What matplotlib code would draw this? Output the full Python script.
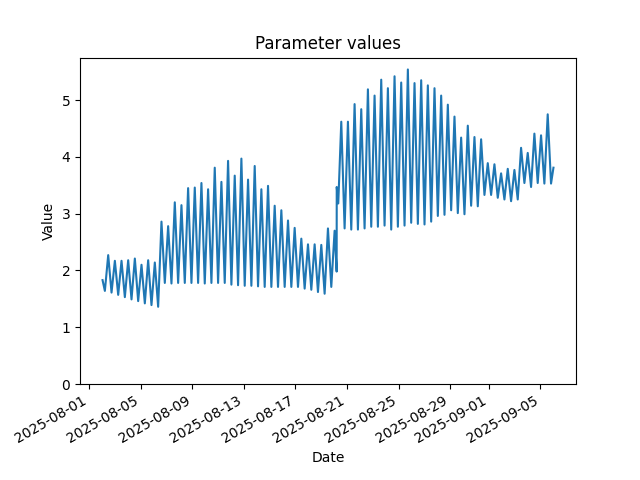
import matplotlib
matplotlib.use("Agg")
import matplotlib.pyplot as plt
import pandas as pd

# Alternating extrema of the tidal-like signal (first trough, then peak/trough pairs)
first_extremum = "2025-08-02 05:05"
half_period = "372min"

peaks = [2.27, 2.17, 2.17, 2.18, 2.21, 2.10, 2.18, 2.14, 2.86, 2.78,
         3.20, 3.15, 3.45, 3.46, 3.54, 3.43, 3.81, 3.56, 3.93, 3.67,
         3.97, 3.60, 3.84, 3.43, 3.49, 3.14, 3.06, 2.88, 2.75, 2.56,
         2.46, 2.46, 2.45, 2.74, 2.70, 4.62, 4.62, 4.93, 4.84, 5.19,
         5.08, 5.36, 5.21, 5.42, 5.31, 5.54, 5.30, 5.35, 5.26, 5.21,
         5.08, 4.92, 4.71, 4.34, 4.55, 4.35, 4.31, 3.89, 3.87, 3.71,
         3.79, 3.77, 4.16, 4.07, 4.41, 4.38, 4.75]

troughs = [1.64, 1.61, 1.57, 1.53, 1.49, 1.46, 1.42, 1.39, 1.36, 1.78,
           1.77, 1.78, 1.78, 1.78, 1.78, 1.77, 1.78, 1.78, 1.78, 1.75,
           1.74, 1.73, 1.73, 1.72, 1.71, 1.71, 1.71, 1.71, 1.71, 1.71,
           1.68, 1.66, 1.62, 1.59, 1.71, None, 2.74, 2.72, 2.72, 2.74,
           2.77, 2.77, 2.79, 2.72, 2.77, 2.79, 2.84, 2.82, 2.81, 2.86,
           2.96, 2.98, 3.06, 3.01, 2.99, 3.14, 3.13, 3.33, 3.33, 3.28,
           3.25, 3.22, 3.25, 3.54, 3.47, 3.54, 3.53, 3.53]

# Extra points: series start/end and the step change on 2025-08-20
extra_times = ["2025-08-02 00:45", "2025-08-20 04:40", "2025-08-20 04:50",
               "2025-08-20 07:40", "2025-09-06 00:23"]
extra_values = [1.83, 1.98, 3.47, 3.18, 3.81]

# Build series
vals = []
for i, t in enumerate(troughs):
    vals.append(t)
    if i < len(peaks):
        vals.append(peaks[i])
times = pd.date_range(first_extremum, periods=len(vals), freq=half_period)
main = pd.Series(vals, index=times, dtype="float").dropna()
extra = pd.Series(extra_values, index=pd.to_datetime(extra_times))
series = pd.concat([main, extra]).sort_index()

fig, ax = plt.subplots(figsize=(6.4, 4.8), dpi=100)
ax.plot(series.index, series.values)
ax.set_ylim(bottom=0)
ax.set_title("Parameter values")
ax.set_xlabel("Date")
ax.set_ylabel("Value")
fig.autofmt_xdate()
fig.savefig("out.png", dpi=100)
